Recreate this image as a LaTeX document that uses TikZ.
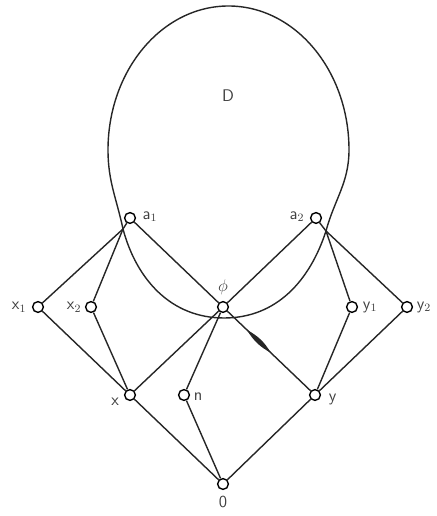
\documentclass[tikz,border=0pt]{standalone}
\usepackage{amsmath,amssymb}
\usepackage{xcolor}
\usepackage{tikz}
\usetikzlibrary{positioning, calc}
\tikzset{
  pointnode/.style={
    circle, draw, fill=white, line width=1pt,
    inner sep=0pt, minimum size=0.27cm
  },
  latticeline/.style={
    line width=1pt, color=black!85
  },
  pointlabel/.style={
    font=\sffamily\large, inner sep=1pt, text=black!75
  },
}

\begin{document}
\begin{tikzpicture}
  \useasboundingbox (0,0) rectangle (10.925,12.9);

  % upper elements
  \node[pointnode] (a1) at (3.25,7.45) {};
  \node[pointnode] (a2) at (7.9,7.45) {};
  \node[pointnode] (phi) at (5.575,5.225) {};

  % middle row
  \node[pointnode] (x1) at (0.95,5.225) {};
  \node[pointnode] (x2) at (2.275,5.225) {};
  \node[pointnode] (y1) at (8.8,5.225) {};
  \node[pointnode] (y2) at (10.175,5.225) {};

  % lower row and zero
  \node[pointnode] (x) at (3.25,3.025) {};
  \node[pointnode] (n) at (4.6,3.025) {};
  \node[pointnode] (y) at (7.875,3.025) {};
  \node[pointnode] (zero) at (5.575,0.8) {};

  % points where the lines meet the curve
  \coordinate (ja1) at (3.075,7.175);
  \coordinate (ja2) at (8.15,7.125);

  % the region D
  \draw[latticeline] (ja1) to[out=102, in=270] (2.7,9.15)
    arc[start angle=180, end angle=0, x radius=3.0125, y radius=3.6]
    to[out=270, in=75] (ja2)
    to[out=252, in=0] (5.6,4.95)
    to[out=180, in=285] (ja1);

  % edges
  \draw[latticeline] (a1) -- (ja1);
  \draw[latticeline] (a2) -- (ja2);
  \foreach \t in {x1,x2} \draw[latticeline] (ja1) -- (\t);
  \foreach \t in {y1,y2} \draw[latticeline] (ja2) -- (\t);
  \foreach \s in {x1,x2} \draw[latticeline] (\s) -- (x);
  \foreach \s in {y1,y2} \draw[latticeline] (\s) -- (y);
  \draw[latticeline] (a1) -- (phi) -- (y);
  \draw[latticeline] (a2) -- (phi) -- (x);
  \draw[latticeline] (phi) -- (n);
  \foreach \s in {x,n,y} \draw[latticeline] (\s) -- (zero);
  \fill[black!85] ($(phi)!0.26!(y)$) to[bend left=15] ($(phi)!0.52!(y)$)
    to[bend left=15] cycle;

  % labels
  \node[pointlabel, right=0.12cm of a1, yshift=1pt] (la1) {a$_1$};
  \node[pointlabel, left=0.1cm of a2, yshift=1pt] (la2) {a$_2$};
  \node[pointlabel, above=0.12cm of phi] (lphi) {$\phi$};
  \node[pointlabel, left=0.1cm of x1] (lx1) {x$_1$};
  \node[pointlabel, left=0.05cm of x2] (lx2) {x$_2$};
  \node[pointlabel, right=0.08cm of y1] (ly1) {y$_1$};
  \node[pointlabel, right=0.05cm of y2] (ly2) {y$_2$};
  \node[pointlabel, left=0.08cm of x, yshift=-0.18cm] (lx) {x};
  \node[pointlabel, right=0.05cm of n, yshift=-0.05cm] (ln) {n};
  \node[pointlabel, right=0.15cm of y, yshift=-0.1cm] (ly) {y};
  \node[pointlabel, below=0.12cm of zero] (lzero) {0};
  \node[pointlabel] (dlabel) at (5.7,10.5) {D};
\end{tikzpicture}
\end{document}
